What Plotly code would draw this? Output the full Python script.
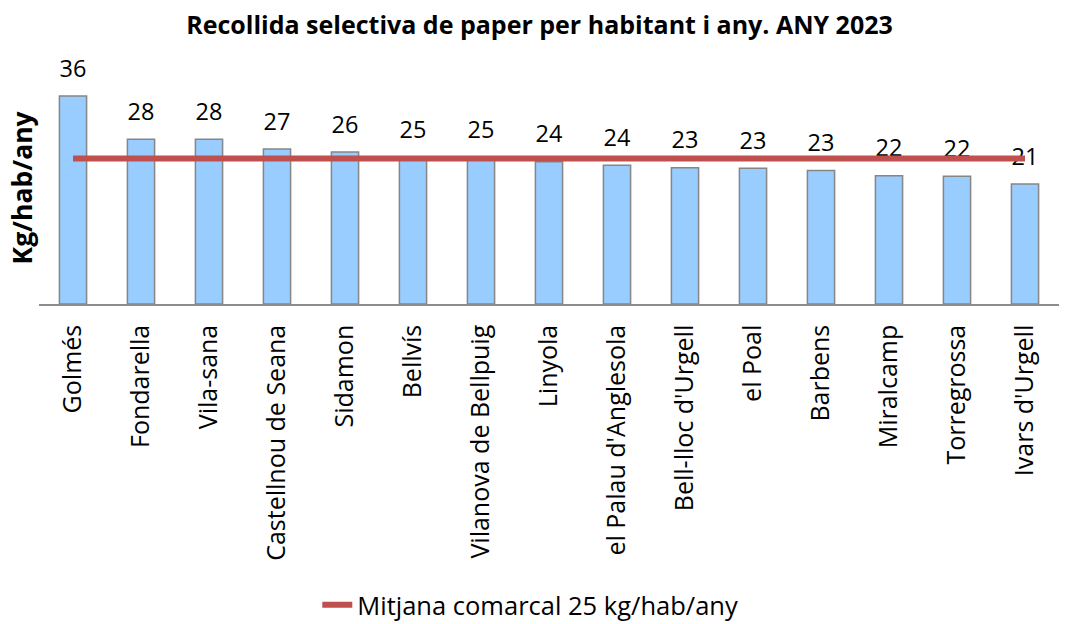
import plotly.graph_objects as go

municipis = ["Golmés", "Fondarella", "Vila-sana", "Castellnou de Seana", "Sidamon",
             "Bellvís", "Vilanova de Bellpuig", "Linyola", "el Palau d'Anglesola",
             "Bell-lloc d'Urgell", "el Poal", "Barbens", "Miralcamp", "Torregrossa",
             "Ivars d'Urgell"]
kg_hab = [35.7, 28.3, 28.3, 26.6, 26.1, 25.1, 25.1, 24.4, 23.8, 23.4, 23.3, 22.9, 22.0, 21.95, 20.6]
mitjana = 25
mitjana_nom = "Mitjana comarcal 25 kg/hab/any"

FONT = "Open Sans"

fig = go.Figure()

fig.add_trace(go.Bar(
    x=municipis, y=kg_hab, width=0.4,
    marker=dict(color="#99CCFF", line=dict(color="#868686", width=1.5)),
    showlegend=False, hoverinfo="x+y",
))

# etiquetes de valor (marcador invisible per separar el text de la barra)
fig.add_trace(go.Scatter(
    x=municipis, y=kg_hab, mode="markers+text",
    text=[f"{v:.0f}" for v in kg_hab], textposition="top center",
    textfont=dict(family=FONT, size=23.5, color="black"),
    marker=dict(size=20, opacity=0), cliponaxis=False,
    showlegend=False, hoverinfo="skip",
))

fig.add_trace(go.Scatter(
    x=municipis, y=[mitjana] * len(municipis), mode="lines",
    line=dict(color="#C0504D", width=6),
    name=mitjana_nom, cliponaxis=False,
))

fig.update_layout(
    width=1067, height=624,
    margin=dict(l=39, r=8, t=71, b=320, autoexpand=False),
    paper_bgcolor="white", plot_bgcolor="white",
    font=dict(family=FONT, color="black"),
    title=dict(text="<b>Recollida selectiva de paper per habitant i any. ANY 2023</b>",
               x=0.5056, xanchor="center", y=0.96, yanchor="middle",
               font=dict(family=FONT, size=25, color="black")),
    xaxis=dict(range=[-0.5, 14.5], automargin=False,
               showline=True, linecolor="#8c8c8c", linewidth=1.5, showgrid=False,
               tickangle=-90, ticks="", ticklabelstandoff=9,
               tickfont=dict(family=FONT, size=25, color="black")),
    yaxis=dict(range=[0, 40], automargin=False, showgrid=False, showticklabels=False,
               zeroline=False, showline=False),
    legend=dict(orientation="h", xref="container", x=0.497, xanchor="center",
                yref="container", y=0.03, yanchor="middle",
                font=dict(family=FONT, size=25.5, color="black")),
    annotations=[dict(text="<b>Kg/hab/any</b>", textangle=-90, xref="paper", yref="paper",
                      x=-0.0167, y=0.5, xanchor="center", yanchor="middle",
                      showarrow=False, font=dict(family=FONT, size=26.5, color="black"))],
)

fig.write_html("out.html", config={"displayModeBar": False},
               post_script="document.body.style.margin='0';")
